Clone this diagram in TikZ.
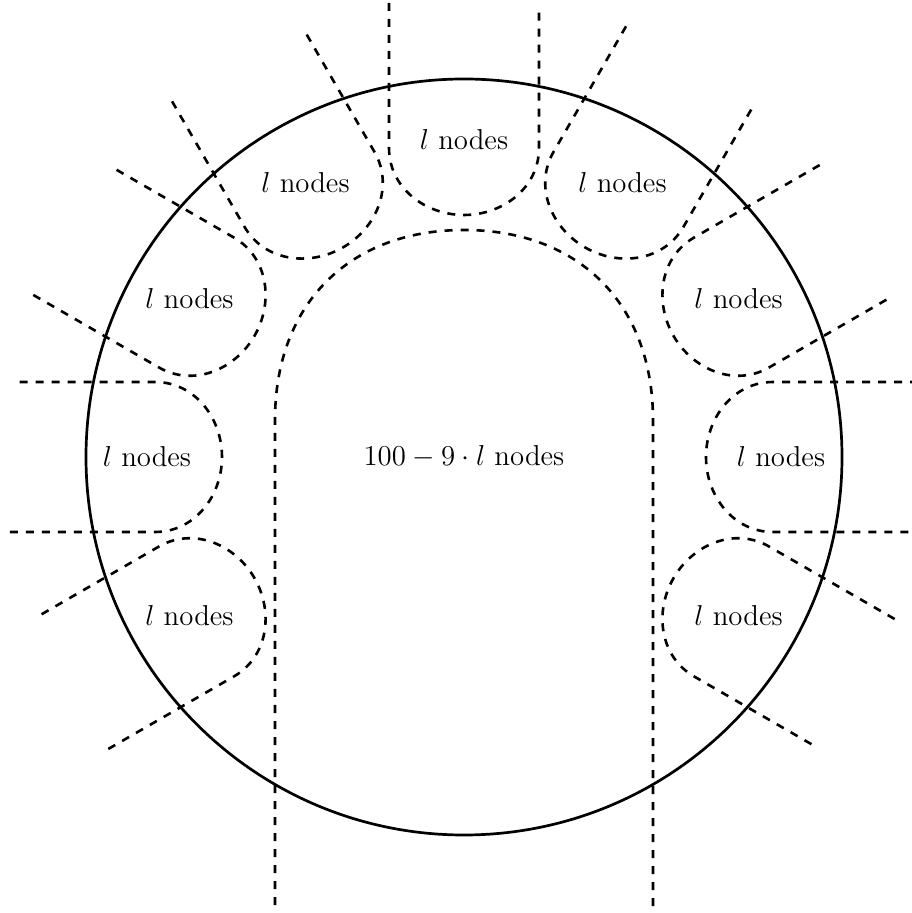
\documentclass[tikz,border=0pt]{standalone}
\tikzset{
  region/.style={line width=1.3pt, dash pattern=on 4pt off 4pt},
  rim/.style={line width=1.35pt},
  lab/.style={font=\Large, inner sep=0pt}
}
\begin{document}
\begin{tikzpicture}[x=0.5pt,y=0.5pt]
\useasboundingbox (-464,-456) rectangle (447,457);
\draw[rim] (0,0) circle (378);
\foreach \a [count=\i] in {90,60,30,0,-30,120,150,180,210} {
  \draw[region, rotate=\a] (454,75) -- (309,75)
     .. controls (269.6,75) and (242,39.4) .. (242,0)
     .. controls (242,-39.4) and (269.6,-75) .. (309,-75) -- (447,-75);
  \node[lab] (r\i) at (\a:317) {$l$ nodes};
}
\draw[region] (-189,-448) -- (-189,37)
   .. controls (-189,152.4) and (-115.4,227) .. (0,227)
   .. controls (115.4,227) and (189,152.4) .. (189,37) -- (189,-455);
\node[lab] (c) at (0,0) {$100-9\cdot l$ nodes};
\end{tikzpicture}
\end{document}
